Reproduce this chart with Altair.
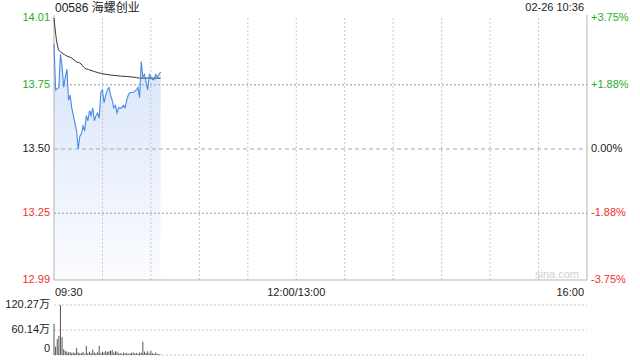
import altair as alt
import pandas as pd

# ---- data ----
price_minutes = [0, 1, 3, 4, 5, 6, 7, 8, 9, 10, 11, 12,
                 14, 15, 16, 17, 18, 19, 20, 21, 22, 23, 24, 25, 26, 27, 28, 29,
                 30, 31, 32, 33, 34, 35, 36, 37, 38, 39, 40, 41, 42, 43, 44, 45,
                 46, 47, 48, 49, 51, 52, 53, 54, 55, 56, 57, 58, 59, 60, 61, 62,
                 63, 64, 65, 66]
prices = [13.91, 13.73, 13.74, 13.87, 13.82, 13.74, 13.78, 13.81, 13.69, 13.71,
          13.66, 13.63, 13.57, 13.50, 13.55, 13.56, 13.59, 13.57, 13.63, 13.61,
          13.65, 13.63, 13.66, 13.61, 13.63, 13.64, 13.62, 13.72, 13.73, 13.68,
          13.71, 13.73, 13.74, 13.71, 13.69, 13.66, 13.67, 13.64, 13.66, 13.66,
          13.66, 13.67, 13.66, 13.69, 13.71, 13.72, 13.72, 13.72, 13.73, 13.74,
          13.70, 13.84, 13.78, 13.79, 13.76, 13.73, 13.79, 13.78, 13.77, 13.77,
          13.79, 13.78, 13.79, 13.80]

avg_minutes = [0, 1, 3, 5, 8, 11, 14, 16, 19, 22, 28, 35, 41, 49, 53, 66]
avg_prices = [14.01, 13.95, 13.885, 13.874, 13.862, 13.854, 13.839, 13.835,
              13.815, 13.808, 13.796, 13.788, 13.784, 13.780, 13.776, 13.776]

vol_minutes = list(range(67))
volumes = [75, 20, 38, 46, 120.27, 43, 14, 10, 8, 6,
           7, 5, 6, 5, 17, 6, 4, 5, 7, 3,
           22, 5, 8, 4, 13, 6, 4, 7, 22, 5,
           8, 6, 10, 7, 9, 10, 12, 6, 9, 8,
           4, 5, 3, 6, 4, 5, 3, 4, 5, 6,
           4, 5, 3, 6, 5, 32, 8, 5, 9, 4,
           10, 4, 3, 6, 3, 2, 1]

price_ticks = [14.01, 13.75, 13.50, 13.25, 12.99]
price_labels = ["14.01", "13.75", "13.50", "13.25", "12.99"]
pct_labels = ["+3.75%", "+1.88%", "0.00%", "-1.88%", "-3.75%"]
tick_dir = ["up", "up", "flat", "down", "down"]

dot_grid_prices = [13.75, 13.25]
prev_close = [13.50]

vol_ticks = [120.27, 60.14]
vol_labels = ["120.27万", "60.14万"]
vol_grid = [120.27, 60.14, 0]

grid_minutes = [30, 60, 90, 120, 150, 180, 210, 240, 270, 300]
time_label_minutes = [0, 150, 330]
time_labels = ["09:30", "12:00/13:00", "16:00"]

title_text = "00586 海螺创业"
date_text = "02-26 10:36"
watermark = "sina.com"

# ---- layout constants ----
W, H = 533, 337
PH = 262  # price panel height
FONT = "Liberation Sans, Arial, Noto Sans CJK SC"

xscale = alt.Scale(domain=[0, 330], range=[0, W])
pscale = alt.Scale(domain=[12.99, 14.01], range=[PH, 0])
vscale = alt.Scale(domain=[0, 120.27], range=[H, 287])

price_df = pd.DataFrame({"m": price_minutes, "p": prices})
avg_df = pd.DataFrame({"m": avg_minutes, "p": avg_prices})
vol_df = pd.DataFrame({"m": vol_minutes, "v": volumes})
tick_df = pd.DataFrame({"p": price_ticks, "lab": price_labels, "pct": pct_labels, "dir": tick_dir})
vtick_df = pd.DataFrame({"v": vol_ticks, "lab": vol_labels})

X = alt.X("m:Q", scale=xscale, axis=None)
PY = alt.Y("p:Q", scale=pscale, axis=None)
VY = alt.Y("v:Q", scale=vscale, axis=None)
dir_color = alt.Color("dir:N", scale=alt.Scale(domain=["up", "flat", "down"],
                                               range=["#1fae1f", "#222222", "#ef3129"]), legend=None)

area = alt.Chart(price_df).mark_area(
    color=alt.Gradient(gradient="linear",
                       stops=[alt.GradientStop(color="#d8e4fa", offset=0),
                              alt.GradientStop(color="#fbfcff", offset=1)],
                       x1=1, x2=1, y1=0, y2=1)
).encode(x=X, y=PY, y2=alt.datum(12.99))

hgrid_dot = alt.Chart(pd.DataFrame({"q": dot_grid_prices})).mark_rule(
    color="#999999", strokeDash=[2, 2], strokeWidth=1
).encode(y=alt.Y("q:Q", scale=pscale, axis=None), x=alt.value(0), x2=alt.value(W))

hgrid_mid = alt.Chart(pd.DataFrame({"p": prev_close})).mark_rule(
    color="#a8a8a8", strokeDash=[4, 3], strokeWidth=1
).encode(y=PY, x=alt.value(0), x2=alt.value(W))

vgrid = alt.Chart(pd.DataFrame({"m": grid_minutes})).mark_rule(
    color="#c8c8c8", strokeDash=[2, 2], strokeWidth=1
).encode(x=X, y=alt.value(0), y2=alt.value(PH))

border_v = alt.Chart(pd.DataFrame({"m": [0, 330]})).mark_rule(
    color="#b4b4b4", strokeWidth=1
).encode(x=X, y=alt.value(-3), y2=alt.value(PH))

border_b = alt.Chart(pd.DataFrame({"p": [12.99]})).mark_rule(
    color="#b4b4b4", strokeWidth=1
).encode(y=PY, x=alt.value(0), x2=alt.value(W))

price_line = alt.Chart(price_df).mark_line(color="#4a88e6", strokeWidth=1.1).encode(x=X, y=PY)

avg_line = alt.Chart(avg_df).mark_line(color="#333333", strokeWidth=1, interpolate="monotone").encode(x=X, y=PY)

left_labels = alt.Chart(tick_df).mark_text(align="right", baseline="middle", font=FONT, fontSize=11, dx=-4).encode(
    x=alt.value(0), y=PY, text="lab:N", color=dir_color)

right_labels = alt.Chart(tick_df).mark_text(align="left", baseline="middle", font=FONT, fontSize=11, dx=4).encode(
    x=alt.value(W), y=PY, text="pct:N", color=dir_color)

vgrid_h = alt.Chart(pd.DataFrame({"v": vol_grid})).mark_rule(
    color="#c8c8c8", strokeDash=[2, 2], strokeWidth=1
).encode(y=VY, x=alt.value(0), x2=alt.value(W))

vol_bars = alt.Chart(vol_df).mark_rule(color="#555555", strokeWidth=1).encode(
    x=X, y=VY, y2=alt.datum(0))

vol_labels_l = alt.Chart(vtick_df).mark_text(align="right", baseline="middle", font=FONT, fontSize=11, dx=-4,
                                             color="#222222").encode(x=alt.value(0), y=VY, text="lab:N")

vol_zero = alt.Chart(pd.DataFrame({"v": [0], "lab": ["0"]})).mark_text(
    align="right", baseline="bottom", font=FONT, fontSize=11, dx=-4, dy=-1, color="#222222"
).encode(x=alt.value(0), y=VY, text="lab:N")

tdf = pd.DataFrame({"m": time_label_minutes, "lab": time_labels})
t_left = alt.Chart(tdf.iloc[[0]]).mark_text(align="left", baseline="middle", font=FONT, fontSize=11,
                                            color="#222222", dx=1).encode(x=X, y=alt.value(275), text="lab:N")
t_mid = alt.Chart(tdf.iloc[[1]]).mark_text(align="center", baseline="middle", font=FONT, fontSize=11,
                                           color="#222222").encode(x=X, y=alt.value(275), text="lab:N")
t_right = alt.Chart(tdf.iloc[[2]]).mark_text(align="right", baseline="middle", font=FONT, fontSize=11,
                                             color="#222222", dx=-3).encode(x=X, y=alt.value(275), text="lab:N")

title = alt.Chart(pd.DataFrame({"t": [title_text]})).mark_text(
    align="left", baseline="middle", font=FONT, fontSize=12, color="#222222"
).encode(x=alt.value(1), y=alt.value(-10), text="t:N")

date = alt.Chart(pd.DataFrame({"t": [date_text]})).mark_text(
    align="right", baseline="middle", font=FONT, fontSize=11, color="#222222"
).encode(x=alt.value(W - 3), y=alt.value(-10), text="t:N")

wm = alt.Chart(pd.DataFrame({"t": [watermark]})).mark_text(
    align="right", baseline="middle", font=FONT, fontSize=11, color="#d0d0d0"
).encode(x=alt.value(W - 8), y=alt.value(PH - 5), text="t:N")

chart = alt.layer(
    area, vgrid, border_v, border_b, hgrid_dot, hgrid_mid, avg_line, price_line,
    left_labels, right_labels, vgrid_h, vol_bars, vol_labels_l, vol_zero,
    t_left, t_mid, t_right, title, date, wm
).resolve_scale(y="independent", color="independent").properties(
    width=W, height=H,
    padding={"left": 54, "top": 18, "right": 53, "bottom": 5},
    autosize=alt.AutoSizeParams(type="none"),
    background="white",
).configure_view(stroke=None)

chart.save("out.html", embed_options={"renderer": "svg", "actions": False})
